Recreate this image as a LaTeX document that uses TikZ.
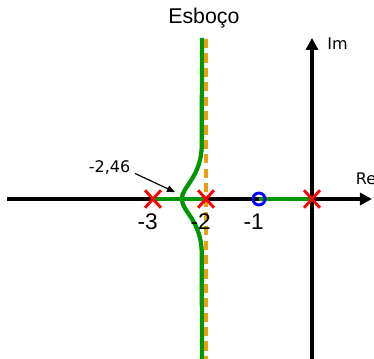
\documentclass[tikz,border=0pt]{standalone}
\usepackage{fontspec}
\setmainfont{Liberation Sans}
\newfontfamily\verdfont{DejaVu Sans}
\usetikzlibrary{arrows.meta,calc}
\definecolor{locgreen}{RGB}{0,150,0}
\definecolor{asyorange}{RGB}{232,160,16}
\begin{document}
\begin{tikzpicture}[x=39.75pt, y=39.75pt, >={Triangle[length=9pt,width=9pt]},
    axis/.style={line width=2.3pt, ->},
    locus/.style={draw=locgreen, line width=3.2pt},
    asym/.style={draw=asyorange, line width=3.5pt, dash pattern=on 7pt off 3.8pt},
    polemark/.style={draw=red, line width=2.2pt},
    zeromark/.style={draw=blue, line width=2.2pt},
    tick/.style={font=\fontsize{17}{20}\selectfont, xshift=-4pt},
    smalllbl/.style={font=\verdfont\fontsize{12}{14}\selectfont}]
  \useasboundingbox (-5.887,-3.019) rectangle (1.170,3.755);
  \coordinate (O) at (0,0);
  \coordinate (xl) at (-5.755,0);
  \coordinate (xr) at (1.132,0);
  \coordinate (yb) at (0,-3.1);
  \coordinate (yt) at (0,3.04);
  \coordinate (p3) at (-3,0);
  \coordinate (p2) at (-2,0);
  \coordinate (z1) at (-1,0);
  \coordinate (ba) at (-2.46,0);
  \coordinate (at) at (-2,3.02);
  \coordinate (ab) at (-2,-3.1);
  \coordinate (lt) at (-2.075,3.04);
  \coordinate (lb) at (-2.075,-3.1);
  \coordinate (btip) at (-2.585,0.13);
  \draw[axis] (xl) -- (xr);
  \draw[axis] (yb) -- (yt);
  \draw[locus] (p3) -- (p2);
  \draw[locus] (z1) -- (O);
  \draw[locus] (lt) -- (-2.08,1.0) .. controls (-2.1,0.4) and (-2.44,0.25) .. (ba)
    .. controls (-2.44,-0.25) and (-2.1,-0.4) .. (-2.08,-1.0) -- (lb);
  \draw[asym] (at) -- (ab);
  \foreach \p in {p3,p2,O}
    \draw[polemark] ($(\p)+(-0.15,-0.165)$) -- ($(\p)+(0.15,0.165)$)
      ($(\p)+(-0.15,0.165)$) -- ($(\p)+(0.15,-0.165)$);
  \draw[zeromark] (z1) circle[radius=4.5pt];
  \node[tick] (l3) at (-3,-0.434) {-3};
  \node[tick] (l2) at (-2,-0.434) {-2};
  \node[tick] (l1) at (-1,-0.434) {-1};
  \node[font=\fontsize{16}{19}\selectfont] (title) at (-2.04,3.42) {Esboço};
  \node[smalllbl, anchor=west] (im) at (0.2,2.94) {Im};
  \node[smalllbl, anchor=west] (re) at (0.74,0.377) {Re};
  \node[smalllbl] (bval) at (-3.82,0.60) {-2,46};
  \draw[->, line width=0.9pt, >={Triangle[length=6pt,width=5pt]}] ([yshift=4pt]bval.south east) -- (btip);
\end{tikzpicture}
\end{document}
